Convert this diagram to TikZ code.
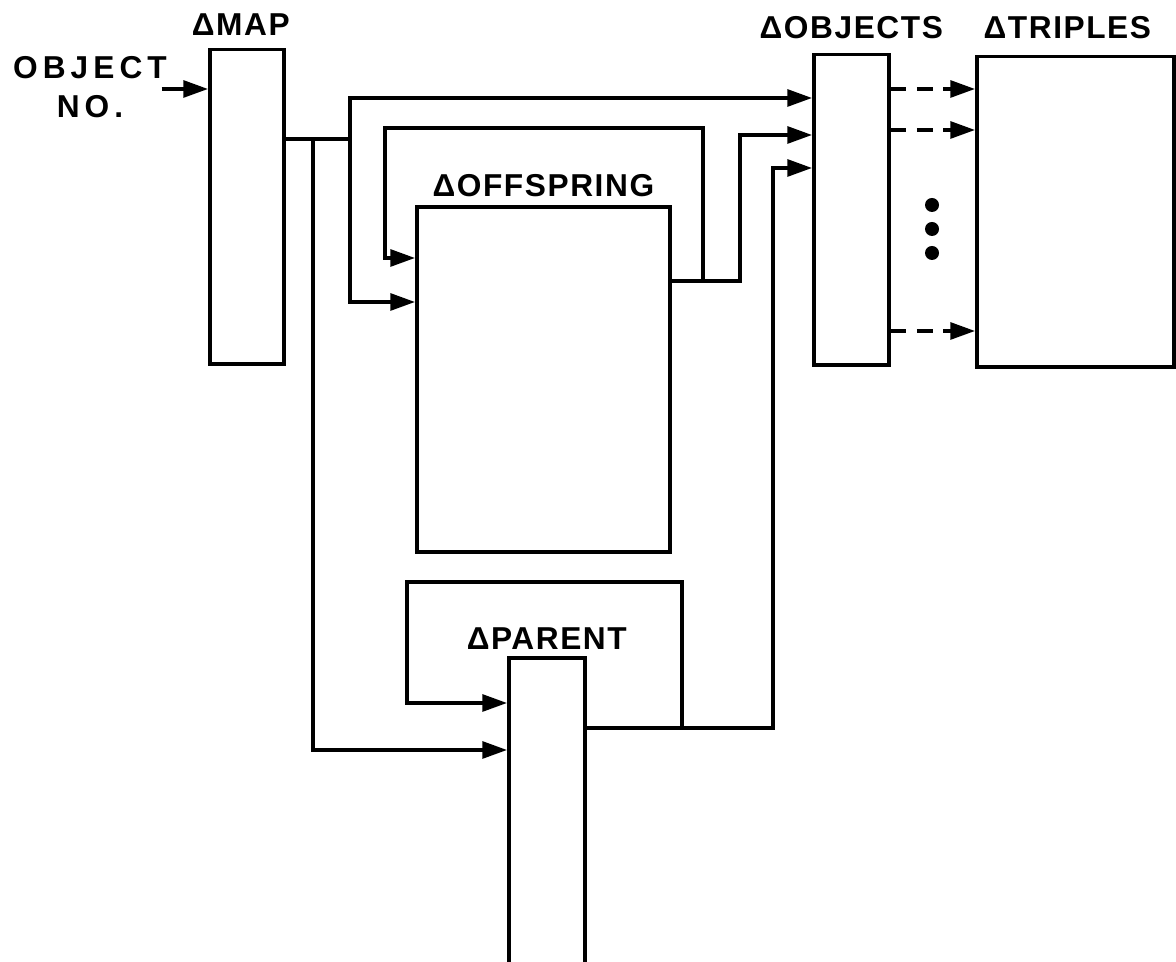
\documentclass[tikz,border=0pt]{standalone}
\usepackage{fontspec}
\setmainfont{Liberation Sans}
\newfontfamily\lettering[LetterSpace=5]{Liberation Sans}
\newfontfamily\wideletter[LetterSpace=16]{Liberation Sans}
\usetikzlibrary{arrows.meta, positioning, calc}

\begin{document}
\begin{tikzpicture}[
  x=0.01cm, y=-0.01cm,
  box/.style={draw, line width=1pt, anchor=north west, inner sep=0pt},
  lbl/.style={font=\lettering\bfseries\fontsize{9}{11}\selectfont, inner sep=0pt, align=center},
  arr/.style={-{Triangle[length=7pt, width=4.8pt]}, line width=0.9pt},
  darr/.style={arr, dash pattern=on 4.5pt off 3pt}
]
  \useasboundingbox (0,0) rectangle (1176,962);
  \clip (0,0) rectangle (1176,962);

  % Stores
  \node[box, minimum width=0.74cm, minimum height=3.14cm] (map) at (208,48) {};
  \node[box, minimum width=2.53cm, minimum height=3.45cm] (off) at (415,205) {};
  \node[box, minimum width=0.76cm, minimum height=3.4cm] (par) at (507,656) {};
  \node[box, minimum width=0.75cm, minimum height=3.10cm] (obj) at (812,53) {};
  \node[box, minimum width=1.97cm, minimum height=3.10cm] (tri) at (975,55) {};

  % Labels
  \node[lbl, above=0.12cm of map, xshift=-0.06cm] (mapl) {ΔMAP};
  \node[lbl, above=0.07cm of off] (offl) {ΔOFFSPRING};
  \node[lbl, above=0.06cm of par] (parl) {ΔPARENT};
  \node[lbl, above=0.13cm of obj] (objl) {ΔOBJECTS};
  \node[lbl, above=0.15cm of tri, xshift=-0.08cm] (tril) {ΔTRIPLES};
  \node[lbl, font=\wideletter\bfseries\fontsize{9}{11}\selectfont] (objno) at (90,87) {OBJECT\\NO.};

  % Input
  \coordinate (inp) at ($(objno.east)+(-6,2)$);
  \draw[arr] (inp) -- (inp -| map.west);

  % MAP out
  \coordinate (j1) at (313,139);
  \coordinate (j2) at (350,139);
  \draw[line width=0.9pt] (j1 -| map.east) -- (j2);
  \draw[arr] (j2) |- ($(obj.north west)+(0,45)$);
  \draw[arr] (j2) |- ($(off.north west)+(0,97)$);
  \draw[arr] (j1) |- ($(par.north west)+(0,94)$);

  % OFFSPRING out
  \coordinate (k1) at (703,281);
  \coordinate (k2) at (740,281);
  \draw[arr] (k1 -| off.east) -- (k2) |- ($(obj.north west)+(0,82)$);
  \draw[arr] (k1) -- ++(0,-153) -| ($(off.north west)+(-30,53)$) -- ($(off.north west)+(0,53)$);

  % PARENT out
  \coordinate (m1) at (682,728);
  \coordinate (m2) at (773,728);
  \draw[arr] (m1 -| par.east) -- (m2) |- ($(obj.north west)+(0,115)$);
  \draw[arr] (m1) -- ++(0,-146) -| ($(par.north west)+(-100,47)$) -- ($(par.north west)+(0,47)$);

  % OBJECTS to TRIPLES
  \foreach \dy in {36,77,278}
    \draw[darr] ($(obj.north east)+(0,\dy)$) -- ($(tri.north west)+(0,\dy-2)$);
  \foreach \yy in {205,229,253}
    \fill (932,\yy) circle[radius=0.07cm];
\end{tikzpicture}
\end{document}
